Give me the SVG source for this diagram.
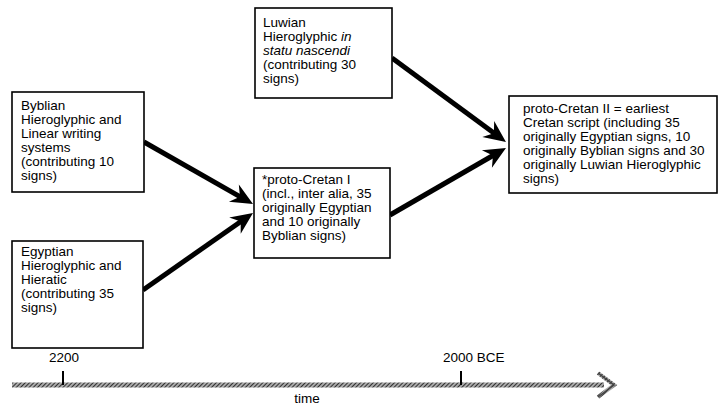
<svg xmlns="http://www.w3.org/2000/svg" width="719" height="408" viewBox="0 0 719 408">
<style>
.box{fill:#fff;stroke:#000;stroke-width:1.6}
.t{font-family:"Liberation Sans",Arial,sans-serif;font-size:13.5px;fill:#000}
.c{fill:none;stroke:#000;stroke-width:5}
.tick{stroke:#000;stroke-width:2}
</style>
<defs>
<marker id="ah" markerUnits="userSpaceOnUse" viewBox="-24 -11 26 22" refX="-10" refY="0" markerWidth="26" markerHeight="22" orient="auto">
<path d="M0,0 L-22,-10 L-15,0 L-22,10 Z" fill="#000"/>
</marker>
<pattern id="hatch" patternUnits="userSpaceOnUse" width="3" height="3" patternTransform="rotate(45)">
<rect width="3" height="3" fill="#aaa"/>
<line x1="0" y1="0" x2="0" y2="3" stroke="#111" stroke-width="1.6"/>
</pattern>
</defs>
<rect width="719" height="408" fill="#fff"/>
<g id="connectors">
<line class="c" x1="144" y1="142" x2="244.3" y2="199.1" marker-end="url(#ah)"/>
<line class="c" x1="143" y1="290" x2="244.8" y2="218.7" marker-end="url(#ah)"/>
<line class="c" x1="392" y1="58" x2="497.9" y2="136.1" marker-end="url(#ah)"/>
<line class="c" x1="390" y1="215" x2="497.3" y2="153" marker-end="url(#ah)"/>
</g>
<g id="byblian">
<rect class="box" x="12" y="92" width="132" height="100"/>
<text class="t" x="21" y="110">Byblian</text>
<text class="t" x="21" y="124">Hieroglyphic and</text>
<text class="t" x="21" y="138">Linear writing</text>
<text class="t" x="21" y="152">systems</text>
<text class="t" x="21" y="166">(contributing 10</text>
<text class="t" x="21" y="180">signs)</text>
</g>
<g id="egyptian">
<rect class="box" x="12" y="241" width="131" height="107"/>
<text class="t" x="21" y="256">Egyptian</text>
<text class="t" x="21" y="270">Hieroglyphic and</text>
<text class="t" x="21" y="284">Hieratic</text>
<text class="t" x="21" y="298">(contributing 35</text>
<text class="t" x="21" y="312">signs)</text>
</g>
<g id="luwian">
<rect class="box" x="255" y="8" width="137" height="90"/>
<text class="t" x="263" y="27">Luwian</text>
<text class="t" x="263" y="41">Hieroglyphic <tspan font-style="italic">in</tspan></text>
<text class="t" x="263" y="55" font-style="italic">statu nascendi</text>
<text class="t" x="263" y="69">(contributing 30</text>
<text class="t" x="263" y="83">signs)</text>
</g>
<g id="protoCretanI">
<rect class="box" x="254" y="168" width="136" height="90"/>
<text class="t" x="262" y="184">*proto-Cretan I</text>
<text class="t" x="262" y="198">(incl., inter alia, 35</text>
<text class="t" x="262" y="212">originally Egyptian</text>
<text class="t" x="262" y="226">and 10 originally</text>
<text class="t" x="262" y="240">Byblian signs)</text>
</g>
<g id="protoCretanII">
<rect class="box" x="509" y="96" width="208" height="97"/>
<text class="t" x="523" y="113">proto-Cretan II = earliest</text>
<text class="t" x="523" y="127">Cretan script (including 35</text>
<text class="t" x="523" y="141">originally Egyptian signs, 10</text>
<text class="t" x="523" y="155">originally Byblian signs and 30</text>
<text class="t" x="523" y="169">originally Luwian Hieroglyphic</text>
<text class="t" x="523" y="183">signs)</text>
</g>
<g id="timeline">
<rect x="12" y="382.5" width="592" height="5" fill="url(#hatch)"/>
<polyline points="598,373 614,385 598,397" fill="none" stroke="url(#hatch)" stroke-width="4"/>
<polyline points="598,373 614,385 598,397" fill="none" stroke="#444" stroke-width="1.5"/>
<line class="tick" x1="63" y1="371" x2="63" y2="385"/>
<line class="tick" x1="461" y1="371" x2="461" y2="385"/>
<text class="t" x="64" y="362" text-anchor="middle">2200</text>
<text class="t" x="443" y="362">2000 BCE</text>
<text class="t" x="307" y="403" text-anchor="middle">time</text>
</g>
</svg>
